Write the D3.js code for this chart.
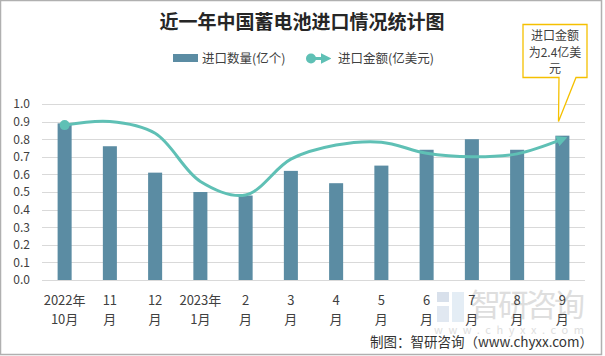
<!DOCTYPE html>
<html><head><meta charset="utf-8">
<script src="https://cdn.jsdelivr.net/npm/d3@7"></script>
<style>body{margin:0;background:#fff}svg{display:block}</style>
</head><body>
<svg id="c" width="605" height="356"></svg>
<script>
const catLine1 = ["2022年","11","12","2023年","2","3","4","5","6","7","8","9"];
const catLine2 = ["10月","月","月","1月","月","月","月","月","月","月","月","月"];
const qty = [0.89,0.76,0.61,0.50,0.48,0.62,0.55,0.65,0.74,0.80,0.74,0.82];
const amt = [2.64,2.70,2.50,1.68,1.45,2.06,2.30,2.35,2.16,2.10,2.15,2.40];
const yTicks = [0,0.1,0.2,0.3,0.4,0.5,0.6,0.7,0.8,0.9,1.0];

const svg = d3.select("#c");
const font = "'Noto Sans CJK SC','Noto Sans',sans-serif";
const txt = "#404040";
const barColor = "#5b8ca3";
const lineColor = "#5fc0b5";

svg.append("rect").attr("x",0.5).attr("y",0.5).attr("width",601).attr("height",354)
  .attr("fill","#fff").attr("stroke","#b0b0b0").attr("stroke-width",1.5);

const x = d3.scaleBand().domain(d3.range(12)).range([42,585]).paddingInner(0.69).paddingOuter(0.345);
const y = d3.scaleLinear().domain([0,1]).range([280,104]);
const y2 = d3.scaleLinear().domain([0,3]).range([280,104]);

// grid
svg.append("g").selectAll("line").data(yTicks).join("line")
  .attr("x1",42).attr("x2",585).attr("y1",d=>Math.round(y(d))+0.5).attr("y2",d=>Math.round(y(d))+0.5)
  .attr("stroke","#d9d9d9").attr("stroke-width",1);

// y axis labels
const yAxis = d3.axisLeft(y).tickValues(yTicks).tickFormat(d3.format(".1f")).tickSize(0).tickPadding(0);
const ya = svg.append("g").attr("transform","translate(30,0)").call(yAxis);
ya.select(".domain").remove();
ya.selectAll("text").attr("font-family",font).attr("font-size",12).attr("fill",txt);

// watermark
const wm = svg.append("g").attr("opacity",0.55);
wm.append("rect").attr("x",437).attr("y",292).attr("width",12).attr("height",10).attr("fill","#b9c8dc");
wm.append("rect").attr("x",452).attr("y",292).attr("width",12).attr("height",30).attr("fill","#cfe0ee");
wm.append("rect").attr("x",437).attr("y",306).attr("width",12).attr("height",16).attr("fill","#c9d6e6");
wm.append("text").attr("x",470).attr("y",316).attr("font-family",font).attr("font-size",31)
  .attr("fill","#c4c4c4").attr("textLength",115).text("智研咨询");
wm.append("text").attr("x",434).attr("y",334).attr("font-family",font).attr("font-size",11)
  .attr("fill","#c4c4c4").attr("textLength",150).text("www.chyxx.com");

// bars
svg.append("g").selectAll("rect").data(qty).join("rect")
  .attr("x",(d,i)=>x(i)).attr("width",x.bandwidth())
  .attr("y",d=>y(d)).attr("height",d=>y(0)-y(d)).attr("fill",barColor);

// x labels
const xl = svg.append("g").attr("font-family",font).attr("font-size",13).attr("fill",txt).attr("text-anchor","middle");
xl.selectAll("text.l1").data(catLine1).join("text").attr("class","l1")
  .attr("x",(d,i)=>x(i)+x.bandwidth()/2).attr("y",305).text(d=>d);
xl.selectAll("text.l2").data(catLine2).join("text").attr("class","l2")
  .attr("x",(d,i)=>x(i)+x.bandwidth()/2).attr("y",324).text(d=>d);

// markers
const defs = svg.append("defs");
defs.append("marker").attr("id","arr").attr("viewBox","0 0 10 10").attr("refX",5).attr("refY",5)
  .attr("markerWidth",3.6).attr("markerHeight",3.6).attr("orient","auto-start-reverse").attr("markerUnits","strokeWidth")
  .append("path").attr("d","M0,0 L10,5 L0,10 Z").attr("fill",lineColor);

// line
const cx = i => x(i)+x.bandwidth()/2;
const line = d3.line().x((d,i)=>cx(i)).y(d=>y2(d)).curve(d3.curveCatmullRom.alpha(0.5));
svg.append("path").datum(amt).attr("d",line).attr("fill","none")
  .attr("stroke",lineColor).attr("stroke-width",3).attr("marker-end","url(#arr)");
svg.append("circle").attr("cx",cx(0)).attr("cy",y2(amt[0])).attr("r",5).attr("fill",lineColor);

// title
svg.append("text").attr("x",302).attr("y",29).attr("text-anchor","middle").attr("font-family",font)
  .attr("font-weight","bold").attr("font-size",19).attr("fill","#262626").text("近一年中国蓄电池进口情况统计图");

// legend
const lg = svg.append("g").attr("font-family",font).attr("font-size",12.5).attr("fill",txt);
lg.append("rect").attr("x",173).attr("y",54).attr("width",25).attr("height",8).attr("fill",barColor);
lg.append("text").attr("x",202).attr("y",63).text("进口数量(亿个)");
lg.append("line").attr("x1",311).attr("x2",326).attr("y1",58.5).attr("y2",58.5).attr("stroke",lineColor).attr("stroke-width",3).attr("marker-end","url(#arr)");
lg.append("circle").attr("cx",311).attr("cy",58.5).attr("r",5).attr("fill",lineColor);
lg.append("text").attr("x",338).attr("y",63).text("进口金额(亿美元)");

// callout
const bx0=523,bx1=587,by0=24.5,by1=77.5;
const tip=[558.5,121.5];
svg.append("path").attr("d",`M${bx0},${by0} L${bx1},${by0} L${bx1},${by1} L576,${by1} L${tip[0]},${tip[1]} L559,${by1} L${bx0},${by1} Z`)
  .attr("fill","#fff").attr("stroke","#f5c000").attr("stroke-width",1.3);
const co = svg.append("g").attr("font-family",font).attr("font-size",12).attr("fill",txt).attr("text-anchor","middle");
["进口金额","为2.4亿美","元"].forEach((t,i)=>co.append("text").attr("x",555).attr("y",40+i*16.5).text(t));

// footer
svg.append("text").attr("x",593).attr("y",347).attr("text-anchor","end").attr("font-family",font)
  .attr("font-size",13.5).attr("fill","#333").text("制图：智研咨询（www.chyxx.com）");
</script>
</body></html>
